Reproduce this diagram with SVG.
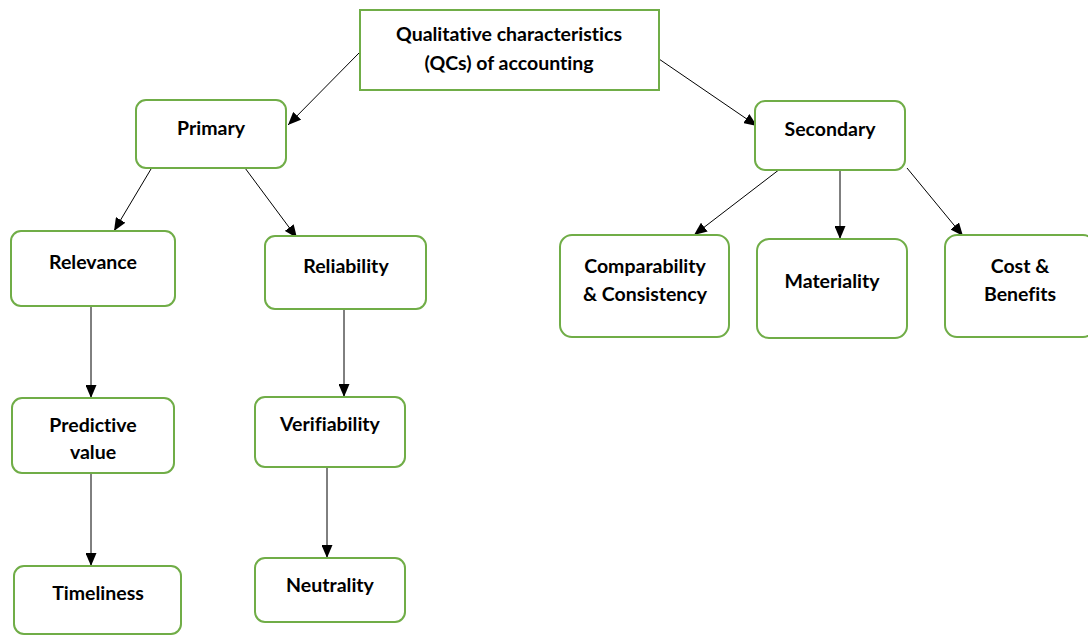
<svg xmlns="http://www.w3.org/2000/svg" width="1088" height="635" viewBox="0 0 1088 635">
<style>
.box{fill:#fff;stroke:#70AD47;stroke-width:2}
.t{font-family:Lato,"Liberation Sans",sans-serif;font-weight:bold;font-size:19.5px;fill:#000;text-anchor:middle;dominant-baseline:central;font-variant-ligatures:none}
.c{stroke:#000;stroke-width:1;fill:none;marker-end:url(#ah)}
</style>
<defs>
<marker id="ah" markerWidth="13" markerHeight="11" refX="13" refY="5.5" orient="auto" markerUnits="userSpaceOnUse">
<path d="M0,0 L13,5.5 L0,11 Z" fill="#000"/>
</marker>
</defs>
<rect width="1088" height="635" fill="#fff"/>
<g id="connectors">
<line class="c" x1="360" y1="52" x2="288" y2="125"/>
<line class="c" x1="659" y1="59" x2="757" y2="126"/>
<line class="c" x1="151" y1="169" x2="114" y2="231"/>
<line class="c" x1="245" y1="168" x2="297" y2="238"/>
<line class="c" x1="91" y1="307" x2="91" y2="398"/>
<line class="c" x1="91" y1="473" x2="91" y2="566"/>
<line class="c" x1="344" y1="310" x2="344" y2="397"/>
<line class="c" x1="327" y1="467" x2="327" y2="558"/>
<line class="c" x1="780" y1="169" x2="694" y2="235"/>
<line class="c" x1="840" y1="171" x2="840" y2="239"/>
<line class="c" x1="907" y1="168" x2="963" y2="236"/>
</g>
<g id="root">
<rect class="box" x="360" y="10" width="299" height="80"/>
<text class="t" x="509" y="33">Qualitative characteristics</text>
<text class="t" x="509" y="62">(QCs) of accounting</text>
</g>
<g id="primary">
<rect class="box" x="136" y="100" width="150" height="68" rx="10"/>
<text class="t" x="211" y="127">Primary</text>
</g>
<g id="secondary">
<rect class="box" x="755" y="101" width="150" height="69" rx="10"/>
<text class="t" x="830" y="128">Secondary</text>
</g>
<g id="relevance">
<rect class="box" x="11" y="231" width="164" height="75" rx="10"/>
<text class="t" x="93" y="261">Relevance</text>
</g>
<g id="reliability">
<rect class="box" x="265" y="236" width="161" height="73" rx="10"/>
<text class="t" x="346" y="265">Reliability</text>
</g>
<g id="comparability">
<rect class="box" x="560" y="235" width="169" height="102" rx="12"/>
<text class="t" x="645" y="265">Comparability</text>
<text class="t" x="645" y="293">&amp; Consistency</text>
</g>
<g id="materiality">
<rect class="box" x="757" y="239" width="150" height="99" rx="12"/>
<text class="t" x="832" y="280">Materiality</text>
</g>
<g id="cost">
<rect class="box" x="945" y="235" width="150" height="102" rx="12"/>
<text class="t" x="1020" y="265">Cost &amp;</text>
<text class="t" x="1020" y="293">Benefits</text>
</g>
<g id="predictive">
<rect class="box" x="12" y="398" width="162" height="75" rx="10"/>
<text class="t" x="93" y="424">Predictive</text>
<text class="t" x="93" y="451">value</text>
</g>
<g id="verifiability">
<rect class="box" x="255" y="397" width="150" height="70" rx="10"/>
<text class="t" x="330" y="423">Verifiability</text>
</g>
<g id="timeliness">
<rect class="box" x="14" y="566" width="167" height="68" rx="10"/>
<text class="t" x="98" y="592">Timeliness</text>
</g>
<g id="neutrality">
<rect class="box" x="255" y="558" width="150" height="64" rx="10"/>
<text class="t" x="330" y="584">Neutrality</text>
</g>
</svg>
